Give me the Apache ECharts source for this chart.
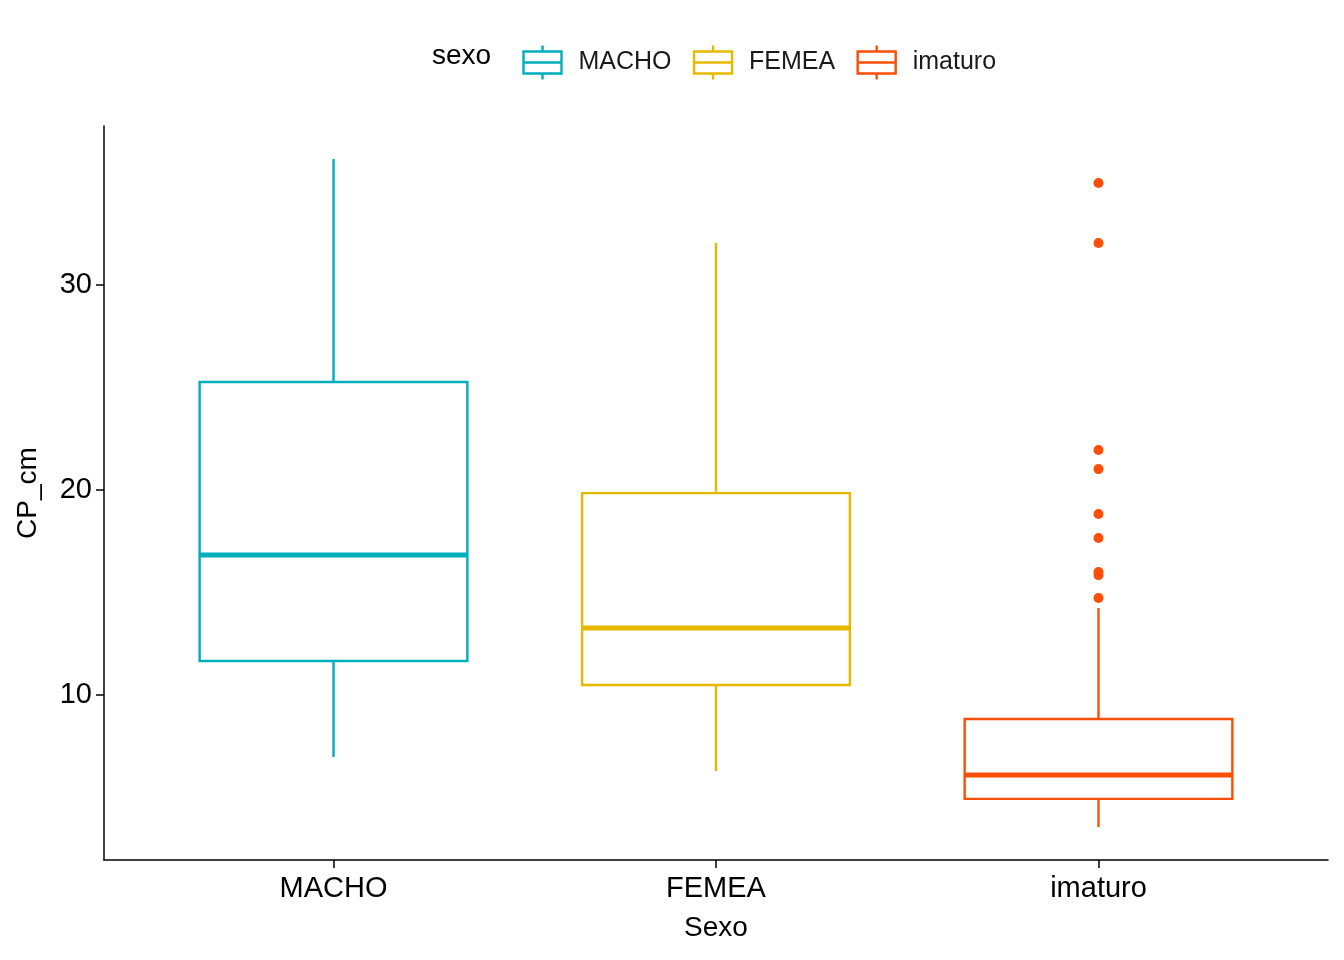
<!DOCTYPE html>
<html>
<head>
<meta charset="utf-8">
<script src="https://cdn.jsdelivr.net/npm/echarts@6/dist/echarts.min.js"></script>
<style>html,body{margin:0;background:#fff}#c{width:1344px;height:960px}</style>
</head>
<body>
<div id="c"></div>
<script>
// categories and box stats: [min, Q1, median, Q3, max]
const categories = ['MACHO', 'FEMEA', 'imaturo']
const colors = ['#00AFBB', '#E7B800', '#FC4E07']
const boxStats = [
  [6.98, 11.66, 16.83, 25.27, 36.15],
  [6.29, 10.49, 13.27, 19.85, 32.05],
  [3.56, 4.93, 6.1, 8.83, 14.24],
]
const outliers = [34.98, 32.05, 21.95, 21.02, 18.83, 17.66, 16.0, 15.85, 14.73]
const yTicks = [10, 20, 30]

const font = 'Arial, Liberation Sans, sans-serif'

function boxRender(params, api) {
  const x = api.value(0)
  const [mn, q1, md, q3, mx] = [1, 2, 3, 4, 5].map((i) => api.value(i))
  const c = colors[params.seriesIndex]
  const half = 0.35
  const pl = api.coord([x - half, q3])
  const pr = api.coord([x + half, q1])
  const pc = (v) => api.coord([x, v])
  const st = { stroke: c, lineWidth: 2.4, fill: 'none' }
  return {
    type: 'group',
    children: [
      { type: 'line', shape: { x1: pc(mx)[0], y1: pc(mx)[1], x2: pc(q3)[0], y2: pc(q3)[1] }, style: st },
      { type: 'line', shape: { x1: pc(q1)[0], y1: pc(q1)[1], x2: pc(mn)[0], y2: pc(mn)[1] }, style: st },
      { type: 'rect', shape: { x: pl[0], y: pl[1], width: pr[0] - pl[0], height: pr[1] - pl[1] }, style: st },
      { type: 'line', shape: { x1: pl[0], y1: pc(md)[1], x2: pr[0], y2: pc(md)[1] }, style: { stroke: c, lineWidth: 5 } },
    ],
  }
}

const series = categories.map((name, i) => ({
  name,
  type: 'custom',
  renderItem: boxRender,
  itemStyle: { color: colors[i] },
  encode: { x: 0, y: [1, 2, 3, 4, 5] },
  data: [[i + 1, ...boxStats[i]]],
  z: 2,
}))
series.push({
  type: 'scatter',
  symbolSize: 10,
  itemStyle: { color: colors[2], opacity: 1 },
  data: outliers.map((v) => [3, v]),
  z: 3,
})

echarts.init(document.getElementById('c')).setOption({
  animation: false,
  textStyle: { fontFamily: font },
  grid: { left: 104, right: 16, top: 126, bottom: 100 },
  legend: {
    top: 38,
    left: 516,
    itemWidth: 38,
    itemHeight: 34,
    itemGap: 20,
    textStyle: { fontSize: 25, color: '#1a1a1a', fontFamily: font, padding: [0, 0, 0, 12] },
    data: categories.map((n, i) => ({
      name: n,
      icon: 'path://M0,17 L38,17 M0,6 L38,6 L38,28 L0,28 Z M19,0 L19,6 M19,28 L19,34',
      itemStyle: { color: 'none', borderColor: colors[i], borderWidth: 2.4 },
    })),
  },
  graphic: [
    { type: 'text', left: 432, top: 42, style: { text: 'sexo', fontSize: 28, fill: '#000', fontFamily: font } },
  ],
  xAxis: {
    type: 'value',
    min: 0.4,
    max: 3.6,
    name: 'Sexo',
    nameLocation: 'middle',
    nameGap: 54,
    nameTextStyle: { fontSize: 28, color: '#000' },
    splitLine: { show: false },
    axisLine: { lineStyle: { color: '#000', width: 1.5 } },
    axisTick: { show: true, length: 8, customValues: [1, 2, 3], lineStyle: { color: '#000', width: 1.5 } },
    axisLabel: {
      customValues: [1, 2, 3],
      formatter: (v) => categories[Math.round(v) - 1],
      fontSize: 29,
      color: '#000',
      margin: 14,
    },
  },
  yAxis: {
    type: 'value',
    min: 1.95,
    max: 37.76,
    name: 'CP_cm',
    nameLocation: 'middle',
    nameGap: 62,
    nameTextStyle: { fontSize: 28, color: '#000' },
    splitLine: { show: false },
    axisLine: { show: true, lineStyle: { color: '#000', width: 1.5 } },
    axisTick: { show: true, length: 8, customValues: yTicks, lineStyle: { color: '#000', width: 1.5 } },
    axisLabel: { customValues: yTicks, fontSize: 29, color: '#000', margin: 12 },
  },
  series,
})
</script>
</body>
</html>
